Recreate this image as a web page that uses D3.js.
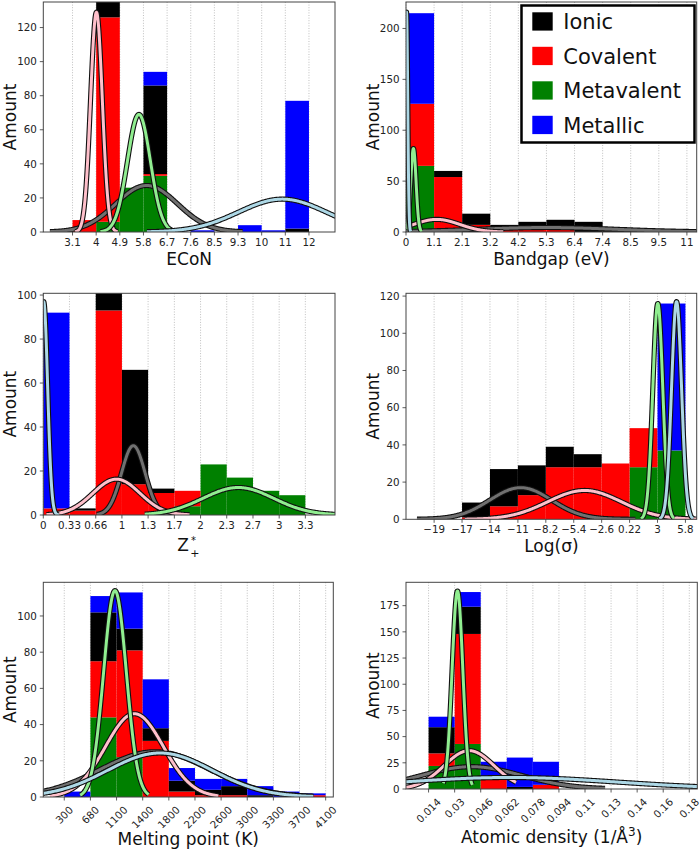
<!DOCTYPE html>
<html><head><meta charset="utf-8">
<script src="https://cdn.jsdelivr.net/npm/d3@7"></script>
<style>body{margin:0;background:#fff}svg{display:block;font-family:"DejaVu Sans",sans-serif}</style>
</head><body><svg id="c" width="700" height="851"></svg>
<script>
// ---------------- DATA ----------------
const classes = ["Ionic","Covalent","Metavalent","Metallic"];

// ECoN
const econEdges = [3.1,3.99,4.88,5.77,6.66,7.55,8.44,9.33,10.22,11.11,12.0];
const econTicks = ["3.1","4","4.9","5.8","6.7","7.6","8.5","9.3","10","11","12"];
const econIonic      = [0,14,0,52,0,0,0,0,0,2];
const econCovalent   = [7,120,0,1,0,0,0,0,0,0];
const econMetavalent = [0,6,26,33,0,0,0,0,0,0];
const econMetallic   = [0,0,0,8,0,1,0,4,1,75];
// fitted normal curves: [mean, sd, peak, from, to]
const econFitIonic      = [5.89,1.16,27.3,2.25,9.5];
const econFitCovalent   = [4.0,0.22,129,3.2,4.8];
const econFitMetavalent = [5.6,0.43,69,4.15,6.95];
const econFitMetallic   = [11.0,1.65,19.3,5.9,13.5];

// Bandgap
const gapEdges = [0,1.06,2.12,3.18,4.24,5.3,6.36,7.42,8.48,9.54,10.6];
const gapTicks = ["0","1.1","2.1","3.2","4.2","5.3","6.4","7.4","8.5","9.5","11"];
const gapIonic      = [0,6,11,4,8,10,10,3,1,0];
const gapCovalent   = [61,54,7,3,2,2,0,0,0,0];
const gapMetavalent = [65,0,0,0,0,0,0,0,0,0];
const gapMetallic   = [89,0,0,0,0,0,0,0,0,0];
const gapFitIonic      = [5.3,2.6,4.4,0,11.5];
const gapFitCovalent   = [1.16,0.86,12.4,0,3.67];
const gapFitMetavalent = [0.28,0.1,82,0.02,0.6];
const gapFitMetallic   = [0.02,0.045,216,0,0.18];

// Z+*
const zEdges = [0,0.333,0.667,1.0,1.333,1.667,2.0,2.333,2.667,3.0,3.333];
const zTicks = ["0","0.33","0.66","1","1.3","1.7","2","2.3","2.7","3","3.3"];
const zIonic      = [0,1,10,52,2,0,0,0,0,0];
const zCovalent   = [3,2,93,14,10,7,0,0,0,0];
const zMetavalent = [0,0,0,0,0,4,23,17,11,9];
const zMetallic   = [89,0,0,0,0,0,0,0,0,0];
const zFitIonic      = [1.145,0.15,31.5,0.68,1.63];
const zFitCovalent   = [0.93,0.3,16.3,0.04,1.86];
const zFitMetavalent = [2.48,0.45,12.5,1.29,3.8];
const zFitMetallic   = [0.005,0.05,97,0,0.2];

// Log(sigma)
const logEdges = [-19.38,-16.58,-13.78,-10.98,-8.18,-5.38,-2.58,0.22,3.02,5.82];
const logTicks = ["\u221219","\u221217","\u221214","\u221211","\u22128.2","\u22125.4","\u22122.6","0.22","3","5.8"];
const logIonic      = [0,8,20,16,11,7,0,0,0];
const logCovalent   = [0,1,7,13,28,28,30,21,0];
const logMetavalent = [0,0,0,0,0,0,0,28,37];
const logMetallic   = [0,0,0,0,0,0,0,0,79];
const logFitIonic      = [-10.7,3.1,17,-21.1,0.8];
const logFitCovalent   = [-4.3,3.7,15.5,-16.3,7.5];
const logFitMetavalent = [3.05,0.5,116,1.35,4.7];
const logFitMetallic   = [4.93,0.5,117,3.2,6.6];

// Melting point
const meltEdges = [300,680,1060,1440,1820,2200,2580,2960,3340,3720,4100];
const meltTicks = ["300","680","1100","1400","1800","2200","2600","3000","3300","3700","4100"];
const meltIonic      = [0,27,12,7,6,3,5,1,0,0];
const meltCovalent   = [0,31,59,31,3,1,1,0,0,1];
const meltMetavalent = [0,44,22,0,0,0,0,0,0,0];
const meltMetallic   = [3,9,20,27,7,6,4,5,3,1];
const meltFitIonic      = [1620,800,25,-300,3920];
const meltFitCovalent   = [1320,420,46,92,2540];
const meltFitMetavalent = [1037,165,114,530,1527];
const meltFitMetallic   = [1690,760,24.3,-300,3920];

// Atomic density
const densEdges = [0.01395,0.03006,0.04617,0.06228,0.07839,0.0945,0.11061,0.12672,0.14283,0.15894,0.17505];
const densTicks = ["0.014","0.03","0.046","0.062","0.078","0.094","0.11","0.13","0.14","0.16","0.18"];
const densIonic      = [25,26,0,2,0,0,0,0,0,0];
const densCovalent   = [12,105,9,0,4,0,0,0,0,0];
const densMetavalent = [22,43,0,0,0,0,0,0,0,0];
const densMetallic   = [10,14,17,28,22,0,0,0,0,0];
const densFitIonic      = [0.0405,0.031,21.3,-0.01,0.123];
const densFitCovalent   = [0.039,0.0155,36.6,-0.01,0.068];
const densFitMetavalent = [0.0318,0.0033,189,0.023,0.041];
const densFitMetallic   = [0.064,0.066,11,-0.01,0.2];

// ---------------- STYLE / LAYOUT ----------------
const barColor = {Ionic:"#000000",Covalent:"#ff0000",Metavalent:"#008000",Metallic:"#0000ff"};
const curveColor = {Ionic:"#707070",Covalent:"#ffc0cb",Metavalent:"#90ee90",Metallic:"#add8e6"};
const stackOrder = ["Metavalent","Covalent","Ionic","Metallic"];
const curveOrder = ["Ionic","Covalent","Metavalent","Metallic"];

const panels = [
 {edges:econEdges,ticks:econTicks,counts:{Ionic:econIonic,Covalent:econCovalent,Metavalent:econMetavalent,Metallic:econMetallic},
  fits:{Ionic:econFitIonic,Covalent:econFitCovalent,Metavalent:econFitMetavalent,Metallic:econFitMetallic},
  xDomain:[2.0,12.98],yMax:135,yStep:20,box:[43.3,2,335,232],label:"ECoN",labelY:265,rot:false},
 {edges:gapEdges,ticks:gapTicks,counts:{Ionic:gapIonic,Covalent:gapCovalent,Metavalent:gapMetavalent,Metallic:gapMetallic},
  fits:{Ionic:gapFitIonic,Covalent:gapFitCovalent,Metavalent:gapFitMetavalent,Metallic:gapFitMetallic},
  xDomain:[0,10.97],yMax:226,yStep:50,box:[406,2,696.7,232],label:"Bandgap (eV)",labelY:264.5,rot:false},
 {edges:zEdges,ticks:zTicks,counts:{Ionic:zIonic,Covalent:zCovalent,Metavalent:zMetavalent,Metallic:zMetallic},
  fits:{Ionic:zFitIonic,Covalent:zFitCovalent,Metavalent:zFitMetavalent,Metallic:zFitMetallic},
  xDomain:[0,3.71],yMax:100.8,yStep:20,box:[43.3,293.3,335,515],label:"Z",labelY:550.7,rot:false},
 {edges:logEdges,ticks:logTicks,counts:{Ionic:logIonic,Covalent:logCovalent,Metavalent:logMetavalent,Metallic:logMetallic},
  fits:{Ionic:logFitIonic,Covalent:logFitCovalent,Metavalent:logFitMetavalent,Metallic:logFitMetallic},
  xDomain:[-22.2,6.95],yMax:121.5,yStep:20,box:[406,293.3,696.7,519.3],label:"Log(\u03c3)",labelY:551.5,rot:false},
 {edges:meltEdges,ticks:meltTicks,counts:{Ionic:meltIonic,Covalent:meltCovalent,Metavalent:meltMetavalent,Metallic:meltMetallic},
  fits:{Ionic:meltFitIonic,Covalent:meltFitCovalent,Metavalent:meltFitMetavalent,Metallic:meltFitMetallic},
  xDomain:[-5,4211],yMax:118.6,yStep:20,box:[43.3,582.3,333.3,797],label:"Melting point (K)",labelY:845,rot:true},
 {edges:densEdges,ticks:densTicks,counts:{Ionic:densIonic,Covalent:densCovalent,Metavalent:densMetavalent,Metallic:densMetallic},
  fits:{Ionic:densFitIonic,Covalent:densFitCovalent,Metavalent:densFitMetavalent,Metallic:densFitMetallic},
  xDomain:[0,0.18],yMax:197.3,yStep:25,box:[406,582.3,697.3,789],label:"Atomic density",labelY:843,rot:true}
];

const svg = d3.select("#c");
const gauss = (p,x) => p[2]*Math.exp(-((x-p[0])**2)/(2*p[1]*p[1]));
const tickFont = 10.3;

panels.forEach((P,pi)=>{
  const [L,T,R,B] = P.box;
  const x = d3.scaleLinear().domain(P.xDomain).range([L,R]);
  const y = d3.scaleLinear().domain([0,P.yMax]).range([B,T]);
  const g = svg.append("g");
  const clipId = "clip"+pi;
  svg.append("clipPath").attr("id",clipId).append("rect").attr("x",L).attr("y",T).attr("width",R-L).attr("height",B-T);

  // grid
  g.append("g").selectAll("line").data(P.edges).join("line")
    .attr("x1",d=>x(d)).attr("x2",d=>x(d)).attr("y1",T).attr("y2",B)
    .attr("stroke","#b0b0b0").attr("stroke-width",0.8).attr("stroke-dasharray","1,1.6");

  // stacked bars
  const nb = P.edges.length-1;
  const rows = d3.range(nb).map(i=>{const r={i}; classes.forEach(c=>r[c]=P.counts[c][i]); return r;});
  const stacked = d3.stack().keys(stackOrder)(rows);
  const bg = g.append("g").attr("clip-path",`url(#${clipId})`);
  stacked.forEach(layer=>{
    bg.append("g").selectAll("rect").data(layer.filter(d=>d[1]>d[0])).join("rect")
      .attr("x",d=>x(P.edges[d.data.i])).attr("width",d=>x(P.edges[d.data.i+1])-x(P.edges[d.data.i]))
      .attr("y",d=>y(d[1])).attr("height",d=>y(d[0])-y(d[1]))
      .attr("fill",barColor[layer.key]);
  });

  // fitted curves
  const cg = g.append("g").attr("clip-path",`url(#${clipId})`);
  const line = d3.line().x(d=>x(d[0])).y(d=>y(d[1]));
  curveOrder.forEach(c=>{
    const p = P.fits[c];
    const pts = d3.range(0,301).map(k=>{const xv=p[3]+(p[4]-p[3])*k/300; return [xv,gauss(p,xv)];});
    cg.append("path").attr("d",line(pts)).attr("fill","none").attr("stroke","#111").attr("stroke-width",5.2).attr("stroke-linejoin","round");
    cg.append("path").attr("d",line(pts)).attr("fill","none").attr("stroke",curveColor[c]).attr("stroke-width",3).attr("stroke-linejoin","round");
  });

  // frame
  g.append("rect").attr("x",L).attr("y",T).attr("width",R-L).attr("height",B-T)
    .attr("fill","none").attr("stroke","#444").attr("stroke-width",1);

  // y ticks
  const yt = d3.range(0,P.yMax+0.001,P.yStep);
  const ya = g.append("g");
  ya.selectAll("line").data(yt).join("line").attr("x1",L-3.5).attr("x2",L).attr("y1",d=>y(d)).attr("y2",d=>y(d)).attr("stroke","#333").attr("stroke-width",0.8);
  ya.selectAll("text").data(yt).join("text").attr("x",L-6.5).attr("y",d=>y(d)).attr("dy","0.36em")
    .attr("text-anchor","end").attr("font-size",tickFont).attr("fill","#222").text(d=>d);

  // x ticks
  const xa = g.append("g");
  xa.selectAll("line").data(P.edges).join("line").attr("x1",d=>x(d)).attr("x2",d=>x(d)).attr("y1",B).attr("y2",B+3.5).attr("stroke","#333").attr("stroke-width",0.8);
  P.edges.forEach((e,i)=>{
    const t = xa.append("text").attr("font-size",tickFont).attr("fill","#222").attr("text-anchor","middle").text(P.ticks[i]);
    if(!P.rot){
      t.attr("x",x(e)).attr("y",B+14);
    } else {
      const w = t.node().getComputedTextLength();
      const h = 11.6;
      const bh = (w+h)*0.7071;
      const cy = B+7+bh/2;
      t.attr("dy","0.35em").attr("transform",`translate(${x(e)},${cy}) rotate(-45)`);
    }
  });

  // axis labels
  const cx = (L+R)/2;
  g.append("text").attr("transform",`translate(${L-27},${(T+B)/2}) rotate(-90)`).attr("text-anchor","middle")
    .attr("font-size",17).attr("fill","#111").text("Amount");
  if(P.label==="Z"){
    g.append("text").attr("x",cx-12).attr("y",P.labelY).attr("font-size",17).attr("fill","#111").text("Z");
    g.append("text").attr("x",cx+1.8).attr("y",P.labelY-7).attr("font-size",10).attr("fill","#111").text("*");
    g.append("text").attr("x",cx+1.2).attr("y",P.labelY+5.8).attr("font-size",11).attr("fill","#111").text("+");
  } else if(P.label==="Atomic density"){
    const t = g.append("text").attr("x",cx).attr("y",P.labelY).attr("text-anchor","middle").attr("font-size",17).attr("fill","#111");
    t.append("tspan").text("Atomic density (1/\u00c5");
    t.append("tspan").attr("dy",-7).attr("font-size",12).text("3");
    t.append("tspan").attr("dy",7).text(")");
  } else {
    g.append("text").attr("x",cx).attr("y",P.labelY).attr("text-anchor","middle").attr("font-size",17).attr("fill","#111").text(P.label);
  }
});

// legend
const lg = svg.append("g");
lg.append("rect").attr("x",521.5).attr("y",5.5).attr("width",173).attr("height",137).attr("fill","#fff").attr("stroke","#000").attr("stroke-width",2.5);
classes.forEach((c,i)=>{
  lg.append("rect").attr("x",532.3).attr("y",12.3+i*34.5).attr("width",20.4).attr("height",18.3).attr("fill",barColor[c]);
  lg.append("text").attr("x",563.3).attr("y",29.3+i*34.5).attr("font-size",21).attr("fill","#111").text(c);
});
</script></body></html>
